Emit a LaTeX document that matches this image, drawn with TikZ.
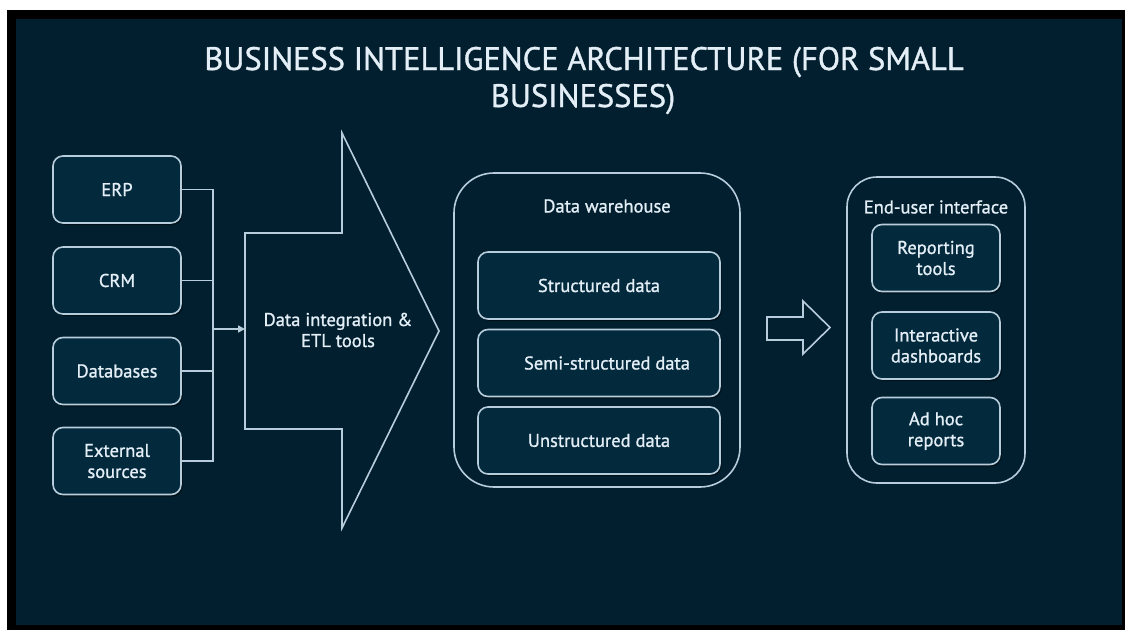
\documentclass[tikz,border=0pt]{standalone}
\usepackage{fontspec}
\setmainfont{PT Sans}[FakeBold=1.1]
\usetikzlibrary{arrows.meta,shadows}
\definecolor{bg}{HTML}{011F2E}
\definecolor{boxfill}{HTML}{03293C}
\definecolor{edge}{HTML}{B8CDDB}
\definecolor{txt}{HTML}{E3EEF6}
\tikzset{
  basebox/.style={draw=edge, line width=1.6pt, fill=boxfill, text=txt, align=center, inner sep=0pt,
    font=\fontsize{18.5}{21}\selectfont,
    drop shadow={opacity=0.45, shadow xshift=1.5pt, shadow yshift=-2pt, fill=black}},
  srcbox/.style={basebox, rounded corners=10pt, minimum width=128pt, minimum height=67pt},
  dwbox/.style={basebox, rounded corners=10pt, minimum width=242pt, minimum height=67pt},
  eubox/.style={basebox, rounded corners=10pt, minimum width=128pt, minimum height=67pt},
  container/.style={draw=edge, line width=1.6pt, inner sep=0pt},
  txtlabel/.style={text=txt, font=\fontsize{18.5}{21}\selectfont, align=center, inner sep=0pt},
  wire/.style={draw=edge, line width=1.6pt},
  outlineshape/.style={draw=edge, line width=1.6pt, line join=miter},
  titlefont/.style={text=txt, font=\fontsize{32.5}{37}\selectfont, inner sep=0pt, anchor=base}
}
\begin{document}
\begin{tikzpicture}[x=1pt,y=-1pt]
% background and frame
\fill[white] (0,0) rectangle (1125,630);
\fill[black] (7,10) rectangle (1125,630);
\fill[bg] (16,19) rectangle (1122,625);
\useasboundingbox (0,0) rectangle (1125,630);

% title
\node[titlefont] (title1) at (584,70) {BUSINESS INTELLIGENCE ARCHITECTURE (FOR SMALL};
\node[titlefont] (title2) at (583,107) {BUSINESSES)};

% sources
\node[srcbox] (erp) at (117,189.5) {ERP};
\node[srcbox] (crm) at (117,280.5) {CRM};
\node[srcbox] (db) at (117,371) {Databases};
\node[srcbox] (ext) at (117,461) {External\\sources};

\coordinate (busTop) at (213,189.5);
\coordinate (busBot) at (213,461);
\coordinate (busMid) at (213,329);
\draw[wire] (erp.east) -- (busTop) -- (busBot) -- (ext.east);
\draw[wire] (crm.east) -- (crm.east -| busTop);
\draw[wire] (db.east) -- (db.east -| busTop);

% big ETL arrow
\draw[outlineshape] (245,233) -- (342,233) -- (342,133) -- (439,331) -- (342,528) -- (342,429) -- (245,429) -- cycle;
\coordinate (etlin) at (245,329);
\node[txtlabel] (etl) at (338,330) {Data integration \&\\ETL tools};
\draw[wire, -{Triangle[length=7pt,width=7pt]}] (busMid) -- (etlin);

% data warehouse
\node[container, rounded corners=40pt, minimum width=286pt, minimum height=314pt] (dw) at (597,330) {};
\node[txtlabel] (dwlabel) at (607,206) {Data warehouse};
\node[dwbox] (sd) at (599,285.5) {Structured data};
\node[dwbox] (ssd) at (599,363) {\hspace*{16pt}Semi-structured data};
\node[dwbox] (ud) at (599,440.5) {Unstructured data};

% hollow arrow
\draw[outlineshape] (767,317) -- (803,317) -- (803,301) -- (830,327.5) -- (803,354) -- (803,340) -- (767,340) -- cycle;

% end-user interface
\node[container, rounded corners=30pt, minimum width=178pt, minimum height=306pt] (eu) at (936,330) {};
\node[txtlabel] (eulabel) at (936,207) {End-user interface};
\node[eubox] (rt) at (936,258) {Reporting\\tools};
\node[eubox] (idb) at (936,345.5) {Interactive\\dashboards};
\node[eubox] (ahr) at (936,431) {Ad hoc\\reports};
\end{tikzpicture}
\end{document}
